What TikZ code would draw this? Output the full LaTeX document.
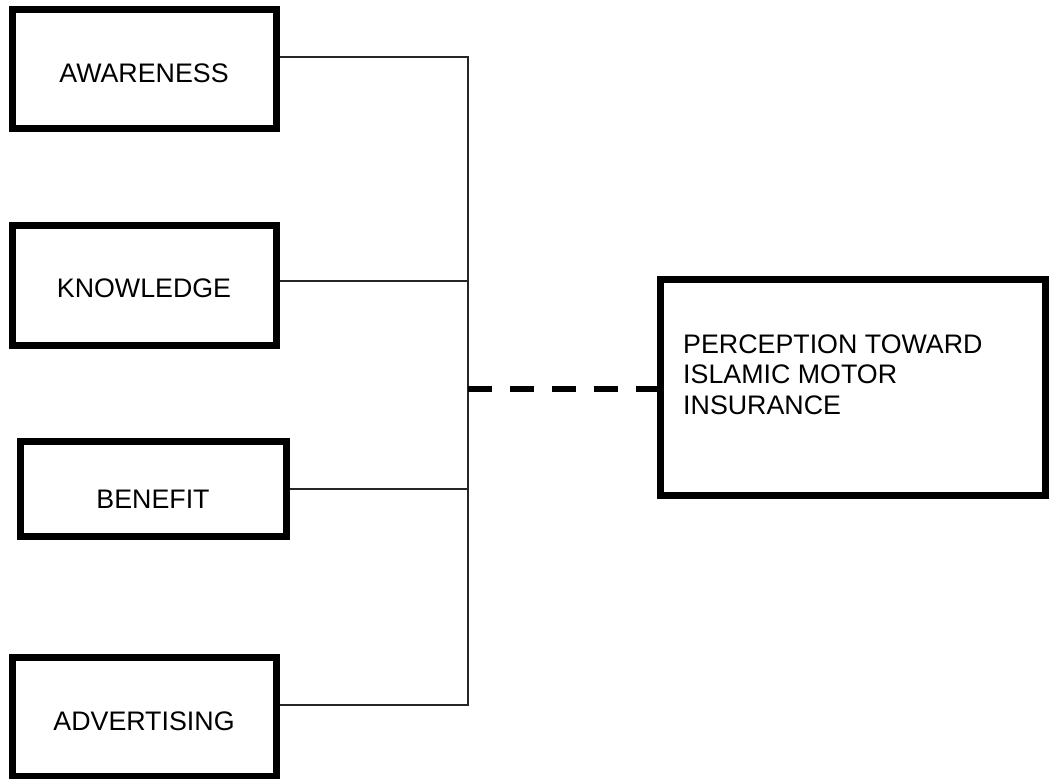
\documentclass[tikz,border=0pt]{standalone}
\usepackage{fontspec}
\setmainfont{Liberation Sans}
\begin{document}
\begin{tikzpicture}[x=1pt,y=-1pt,
  box/.style={draw=black, line width=7pt, rectangle, inner sep=0pt, fill=white},
  lbl/.style={inner sep=0pt, font=\fontsize{26.8}{30.5}\selectfont},
  thin/.style={draw=black!85, line width=1.5pt},
  dashlink/.style={draw=black, line width=6pt, dash pattern=on 24pt off 18pt}]
\useasboundingbox (0,0) rectangle (1053,779);
% boxes
\node[box, minimum width=264pt, minimum height=119.5pt] (aw) at (144,68.75) {};
\node[box, minimum width=264pt, minimum height=120pt] (kn) at (144,285) {};
\node[box, minimum width=265.5pt, minimum height=95.5pt] (be) at (153.25,488.75) {};
\node[box, minimum width=264pt, minimum height=119.5pt] (ad) at (144,716.75) {};
\node[box, minimum width=384.5pt, minimum height=216pt] (pe) at (852.75,387) {};
% labels
\node[lbl] (awt) at (144,72.8) {AWARENESS};
\node[lbl] (knt) at (144,288.7) {KNOWLEDGE};
\node[lbl] (bet) at (153,499.3) {BENEFIT};
\node[lbl] (adt) at (144,721) {ADVERTISING};
\node[lbl, anchor=base west, align=left] (pet) at (683,414) {PERCEPTION TOWARD\\ISLAMIC MOTOR\\INSURANCE};
% trunk coordinates
\coordinate (t1) at (468,57);
\coordinate (t2) at (468,281);
\coordinate (t3) at (468,489);
\coordinate (t4) at (468,705);
\coordinate (tj) at (468,388.5);
% connectors
\draw[thin] (aw.east |- t1) -- (t1) -- (t4) -- (ad.east |- t4);
\draw[thin] (kn.east |- t2) -- (t2);
\draw[thin] (be.east |- t3) -- (t3);
\draw[dashlink] (tj) -- (tj -| pe.west);
\end{tikzpicture}
\end{document}
